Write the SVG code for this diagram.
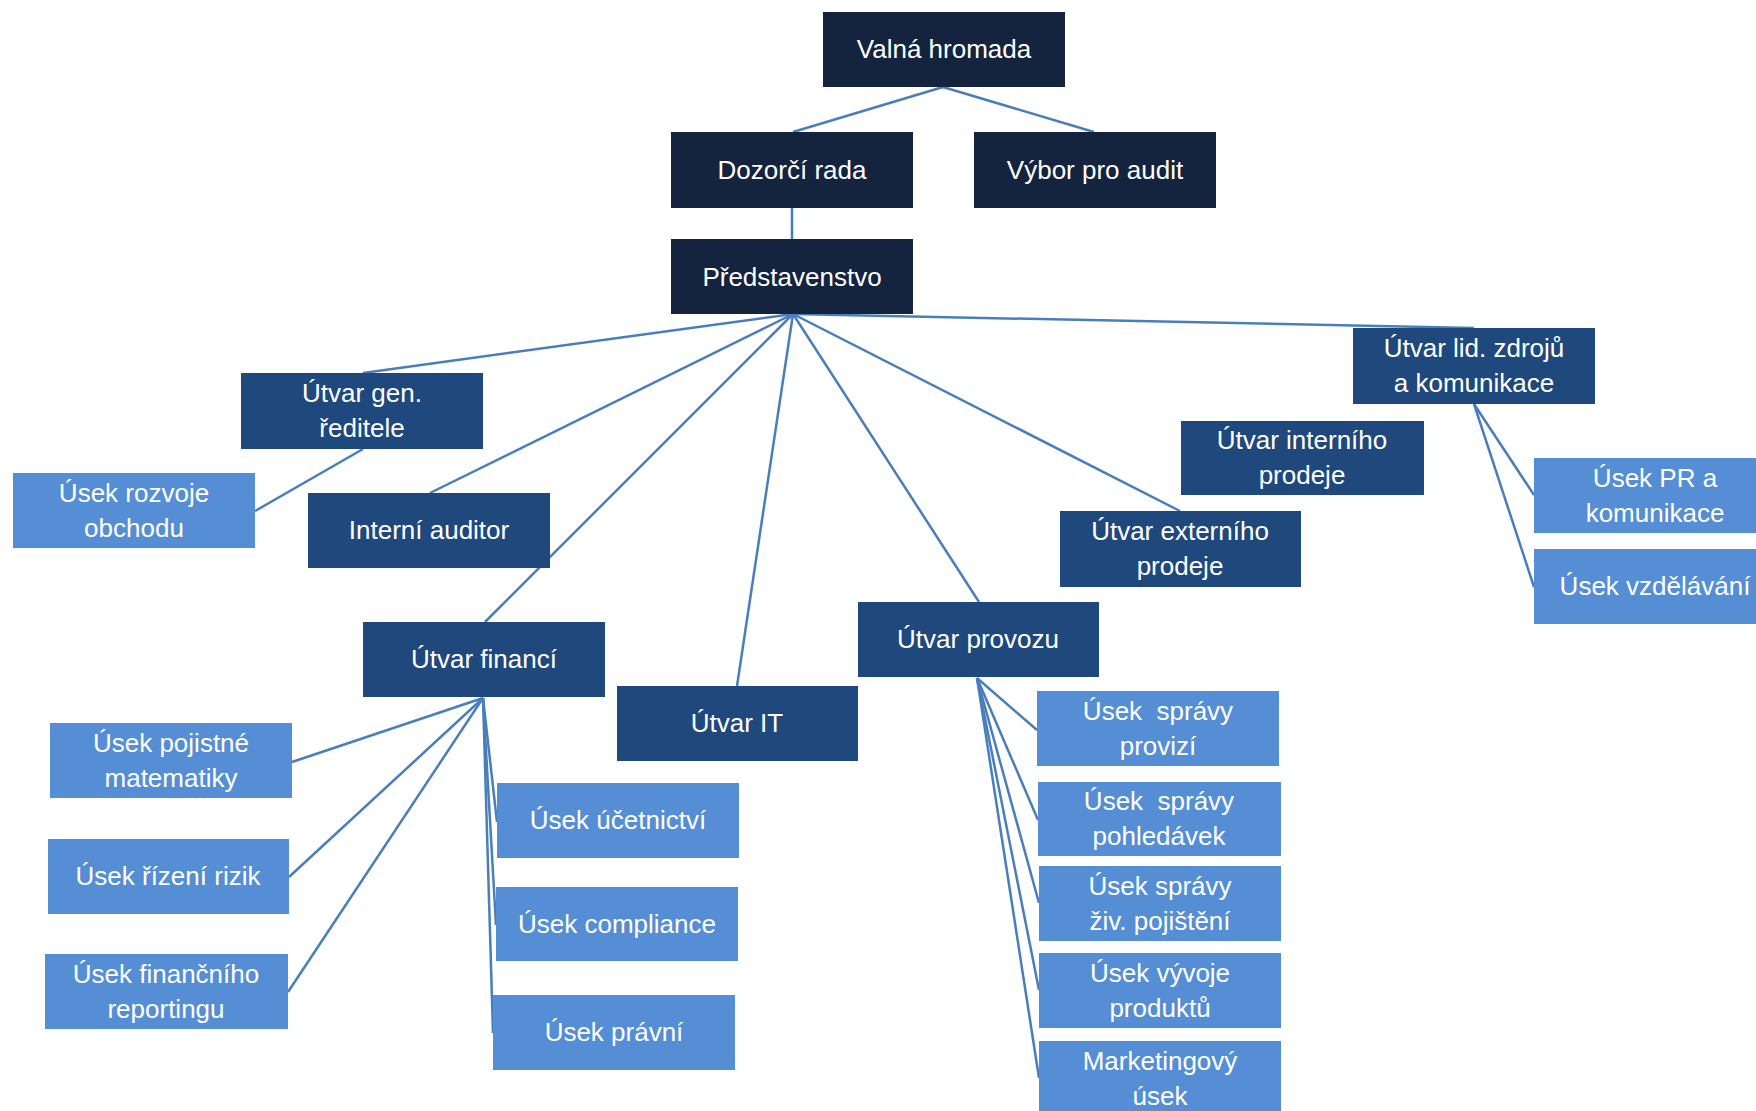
<svg xmlns="http://www.w3.org/2000/svg" width="1756" height="1111" viewBox="0 0 1756 1111">
<style>
.dk{fill:#14243F}
.md{fill:#1F487C}
.lt{fill:#558ED5}
text{font-family:"Liberation Sans",Arial,sans-serif;font-size:26px;fill:#FFFFFF;text-anchor:middle}
.pre{white-space:pre}
#connectors line{stroke:#4A7EBB;stroke-width:2.5;fill:none}
</style>
<rect width="1756" height="1111" fill="#FFFFFF"/>
<g id="connectors">
<line x1="943" y1="87" x2="793" y2="132"/>
<line x1="943" y1="87" x2="1094" y2="132"/>
<line x1="792" y1="208" x2="792" y2="239"/>
<line x1="793" y1="314" x2="363" y2="373"/>
<line x1="793" y1="314" x2="430" y2="493"/>
<line x1="793" y1="314" x2="485" y2="622"/>
<line x1="793" y1="314" x2="737" y2="686"/>
<line x1="793" y1="314" x2="979" y2="602"/>
<line x1="793" y1="314" x2="1180" y2="511"/>
<line x1="793" y1="314" x2="1474" y2="328"/>
<line x1="363" y1="449" x2="255" y2="511"/>
<line x1="1474" y1="404" x2="1534" y2="495"/>
<line x1="1474" y1="404" x2="1534" y2="587"/>
<line x1="483" y1="698" x2="292" y2="762"/>
<line x1="483" y1="698" x2="289" y2="877"/>
<line x1="483" y1="698" x2="288" y2="992"/>
<line x1="483" y1="698" x2="497" y2="822"/>
<line x1="483" y1="698" x2="496" y2="925"/>
<line x1="483" y1="698" x2="493" y2="1033"/>
<line x1="977" y1="678" x2="1037" y2="730"/>
<line x1="977" y1="678" x2="1038" y2="820"/>
<line x1="977" y1="678" x2="1039" y2="903"/>
<line x1="977" y1="678" x2="1039" y2="990"/>
<line x1="977" y1="678" x2="1039" y2="1078"/>
</g>
<g id="valna"><rect class="dk" x="823" y="12" width="242" height="75"/><text x="944" y="58">Valná hromada</text></g>
<g id="dozorci"><rect class="dk" x="671" y="132" width="242" height="76"/><text x="792" y="179">Dozorčí rada</text></g>
<g id="vybor"><rect class="dk" x="974" y="132" width="242" height="76"/><text x="1095" y="179">Výbor pro audit</text></g>
<g id="predstavenstvo"><rect class="dk" x="671" y="239" width="242" height="75"/><text x="792" y="286">Představenstvo</text></g>
<g id="gen"><rect class="md" x="241" y="373" width="242" height="76"/><text x="362" y="402">Útvar gen.</text><text x="362" y="437">ředitele</text></g>
<g id="rozvoj"><rect class="lt" x="13" y="473" width="242" height="75"/><text x="134" y="502">Úsek rozvoje</text><text x="134" y="537">obchodu</text></g>
<g id="auditor"><rect class="md" x="308" y="493" width="242" height="75"/><text x="429" y="539">Interní auditor</text></g>
<g id="financi"><rect class="md" x="363" y="622" width="242" height="75"/><text x="484" y="668">Útvar financí</text></g>
<g id="it"><rect class="md" x="617" y="686" width="241" height="75"/><text x="737" y="732">Útvar IT</text></g>
<g id="provoz"><rect class="md" x="858" y="602" width="241" height="75"/><text x="978" y="648">Útvar provozu</text></g>
<g id="externi"><rect class="md" x="1060" y="511" width="241" height="76"/><text x="1180" y="540">Útvar externího</text><text x="1180" y="575">prodeje</text></g>
<g id="interni"><rect class="md" x="1181" y="421" width="243" height="74"/><text x="1302" y="449">Útvar interního</text><text x="1302" y="484">prodeje</text></g>
<g id="lidzdroje"><rect class="md" x="1353" y="328" width="242" height="76"/><text x="1474" y="357">Útvar lid. zdrojů</text><text x="1474" y="392">a komunikace</text></g>
<g id="pr"><rect class="lt" x="1534" y="458" width="242" height="75"/><text x="1655" y="487">Úsek PR a</text><text x="1655" y="522">komunikace</text></g>
<g id="vzdelavani"><rect class="lt" x="1534" y="549" width="242" height="75"/><text x="1655" y="595">Úsek vzdělávání</text></g>
<g id="pojistne"><rect class="lt" x="50" y="723" width="242" height="75"/><text x="171" y="752">Úsek pojistné</text><text x="171" y="787">matematiky</text></g>
<g id="rizika"><rect class="lt" x="48" y="839" width="241" height="75"/><text x="168" y="885">Úsek řízení rizik</text></g>
<g id="reporting"><rect class="lt" x="45" y="954" width="243" height="75"/><text x="166" y="983">Úsek finančního</text><text x="166" y="1018">reportingu</text></g>
<g id="ucetnictvi"><rect class="lt" x="497" y="783" width="242" height="75"/><text x="618" y="829">Úsek účetnictví</text></g>
<g id="compliance"><rect class="lt" x="496" y="887" width="242" height="74"/><text x="617" y="933">Úsek compliance</text></g>
<g id="pravni"><rect class="lt" x="493" y="995" width="242" height="75"/><text x="614" y="1041">Úsek právní</text></g>
<g id="provize"><rect class="lt" x="1037" y="691" width="242" height="75"/><text class="pre" x="1158" y="720">Úsek  správy</text><text x="1158" y="755">provizí</text></g>
<g id="pohledavky"><rect class="lt" x="1038" y="782" width="243" height="74"/><text class="pre" x="1159" y="810">Úsek  správy</text><text x="1159" y="845">pohledávek</text></g>
<g id="zivpojisteni"><rect class="lt" x="1039" y="866" width="242" height="75"/><text x="1160" y="895">Úsek správy</text><text x="1160" y="930">živ. pojištění</text></g>
<g id="vyvoj"><rect class="lt" x="1039" y="953" width="242" height="75"/><text x="1160" y="982">Úsek vývoje</text><text x="1160" y="1017">produktů</text></g>
<g id="marketing"><rect class="lt" x="1039" y="1041" width="242" height="75"/><text x="1160" y="1070">Marketingový</text><text x="1160" y="1105">úsek</text></g>
</svg>
